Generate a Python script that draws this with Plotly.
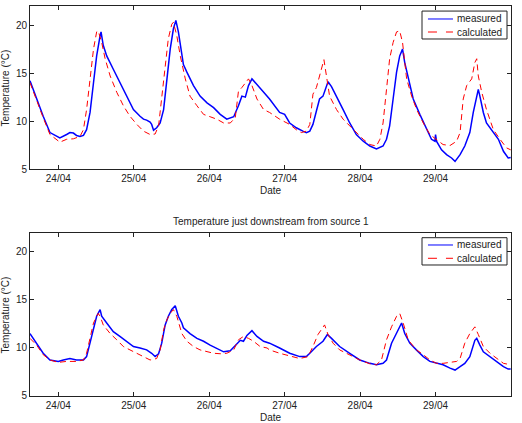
import pandas as pd
import plotly.graph_objects as go

# ---------------- data (hours since 24/04 00:00, temperature in degC) ----------------
up_meas_h = [-9.0, -6.9, -4.8, -2.65, 0, 0.5, 2.65, 3.7, 4.8, 5.8, 6.9, 8.0, 9.0, 10.1, 11.2, 12.2, 13.3, 13.6,
             14.3, 15.4, 17.5, 19.6, 21.8, 23.9, 26.0, 27.1, 28.1, 29.2, 29.7, 30.3, 31.3, 32.4, 33.5, 34.5,
             35.6, 36.6, 37.4, 38.2, 39.3, 39.8, 40.9, 43.0, 45.1, 47.3, 49.4, 51.5, 53.6, 55.8, 57.3, 58.4,
             59.5, 60.5, 61.6, 62.7, 64.2, 66.4, 67.2, 70.4, 72.0, 73.6, 75.7, 77.8, 78.9, 80.0, 81.0, 82.1,
             83.1, 84.2, 85.3, 85.8, 86.9, 88.5, 90.6, 92.7, 94.8, 97.0, 99.1, 101.2, 103.3, 104.4, 105.4,
             106.5, 107.6, 108.6, 109.5, 110.2, 111.3, 112.9, 115.0, 117.1, 118.7, 119.8, 120.0, 120.3,
             121.9, 123.5, 125.1, 126.2, 127.8, 129.3, 130.9, 132.0, 132.8, 133.6, 134.1, 135.2, 136.2,
             138.4, 140.0, 141.6, 143.1, 143.9]
up_meas_t = [14.2, 12.3, 10.5, 8.8, 8.4, 8.25, 8.6, 8.8, 8.75, 8.5, 8.4, 8.5, 9.1, 10.9, 14.0, 16.8, 18.9, 19.3,
             17.9, 16.8, 15.4, 14.0, 12.6, 11.2, 10.5, 10.2, 10.1, 9.9, 9.65, 9.05, 9.3, 9.8, 11.2, 14.0,
             17.5, 19.6, 20.5, 19.3, 16.8, 15.9, 15.1, 13.7, 12.6, 11.9, 11.4, 10.7, 10.2, 10.45, 11.6, 12.6,
             12.5, 13.7, 14.4, 14.0, 13.5, 12.6, 12.3, 10.9, 10.7, 9.8, 9.3, 8.95, 8.8, 8.95, 9.65, 11.05,
             12.3, 12.6, 13.5, 14.1, 13.6, 12.6, 11.2, 9.8, 8.6, 7.9, 7.4, 7.1, 7.4, 8.1, 9.5,
             12.3, 15.1, 16.8, 17.5, 16.1, 14.4, 12.3, 10.7, 9.3, 8.1, 7.9, 8.6, 7.9,
             7.0, 6.5, 6.15, 5.8, 6.5, 7.4, 8.8, 10.9, 12.3, 13.3, 12.6, 10.9, 9.8,
             8.8, 8.1, 6.85, 6.15, 6.2]

up_calc_h = [-9.0, -6.9, -4.8, -2.65, -0.5, 0.5, 2.65, 4.8, 6.9, 8.0, 9.0, 10.1, 11.2, 12.2, 12.7, 13.8, 14.9,
             16.5, 18.6, 20.7, 22.8, 25.0, 27.1, 29.2, 30.8, 31.9, 32.9, 34.0, 35.0, 36.1, 36.6, 37.7, 38.8,
             40.4, 41.9, 44.1, 46.2, 48.3, 50.4, 52.6, 54.7, 56.3, 57.3, 58.4, 59.5, 60.5, 61.6, 63.2, 65.3,
             67.2, 70.4, 73.6, 75.7, 77.3, 78.9, 80.0, 81.0, 82.1, 83.1, 84.2, 84.5, 85.3, 86.3, 88.5, 90.6,
             92.7, 94.8, 97.0, 99.1, 101.2, 102.3, 103.3, 104.4, 105.4, 106.5, 107.6, 108.6, 109.5, 110.8,
             112.4, 114.0, 116.1, 118.2, 120.3, 122.4, 124.6, 126.7, 127.8, 128.8, 129.9, 131.5, 132.5,
             133.1, 133.6, 134.7, 136.2, 138.4, 140.5, 142.6, 143.9]
up_calc_t = [14.0, 12.1, 10.35, 8.6, 8.1, 7.8, 8.1, 8.15, 8.4, 9.1, 11.2, 14.7, 17.5, 19.3, 19.4, 18.2, 16.5,
             14.7, 13.0, 11.6, 10.5, 9.65, 8.95, 8.6, 8.65, 9.5, 12.3, 15.8, 18.6, 20.1, 20.3, 18.9, 16.8,
             14.4, 12.6, 11.6, 10.7, 10.45, 10.2, 9.8, 9.8, 10.35, 13.1, 13.5, 14.0, 14.4, 13.7, 12.3, 11.2,
             10.9, 10.2, 9.65, 9.1, 8.8, 8.95, 9.65, 12.8, 13.5, 14.7, 16.3, 16.4, 14.7, 12.6, 11.2, 10.2,
             9.5, 8.8, 8.1, 7.55, 7.4, 8.1, 9.8, 13.3, 16.5, 18.2, 19.3, 19.4, 18.2, 14.4,
             12.6, 11.2, 9.8, 8.6, 8.1, 7.55, 7.45, 7.9, 8.8, 12.3, 13.7, 14.4, 16.1,
             16.5, 14.7, 13.0, 11.2, 9.1, 8.1, 7.2, 7.0]

dn_meas_h = [-9.0, -6.9, -4.8, -2.65, 0, 1.6, 3.7, 5.8, 8.0, 9.0, 10.1, 11.2, 12.2, 13.3, 13.8, 15.4, 17.5,
             19.6, 21.8, 23.9, 26.0, 28.1, 29.7, 30.8, 31.9, 32.9, 34.0, 35.0, 36.1, 37.2, 38.2, 39.3, 39.8,
             41.9, 44.1, 46.2, 48.3, 50.4, 52.6, 54.7, 56.8, 57.9, 58.9, 60.0, 61.6, 63.2, 65.3, 67.2, 70.4,
             73.6, 76.8, 78.9, 80.0, 82.1, 84.2, 85.6, 86.9, 89.5, 92.7, 95.9, 99.1, 101.2, 103.3, 104.4,
             106.0, 107.6, 109.2, 110.2, 111.8, 113.9, 116.1, 118.2, 120.3, 122.4, 124.6, 126.2, 127.8,
             129.3, 130.9, 132.0, 132.5, 133.1, 133.6, 134.1, 135.2, 137.3, 139.4, 141.6, 143.1, 143.9]
dn_meas_t = [11.5, 10.5, 9.45, 8.75, 8.6, 8.75, 8.9, 8.75, 8.75, 9.1, 10.5, 12.2, 13.3, 14.0, 13.3, 12.6, 11.7,
             11.2, 10.7, 10.15, 10.0, 9.8, 9.45, 9.1, 9.4, 10.5, 12.4, 13.3, 14.0, 14.4, 13.3, 12.6, 12.1,
             11.5, 11.0, 10.7, 10.3, 10.0, 9.6, 9.7, 10.5, 10.8, 10.7, 11.3, 11.8, 11.2, 10.7, 10.5, 10.0,
             9.45, 9.1, 9.1, 9.45, 10.15, 10.7, 11.4, 11.0, 10.15, 9.45, 8.75, 8.4, 8.25, 8.4, 8.75,
             10.5, 11.5, 12.6, 11.5, 10.5, 9.8, 9.1, 8.6, 8.4, 8.25, 7.9, 7.7, 8.05,
             8.4, 9.1, 10.15, 10.8, 11.0, 10.6, 10.3, 9.6, 9.1, 8.6, 8.05, 7.8, 7.8]

dn_calc_h = [-9.0, -6.9, -4.8, -2.65, 0, 2.65, 5.8, 8.0, 9.0, 10.1, 11.2, 12.7, 13.3, 14.3, 16.5, 18.6, 20.7,
             22.8, 25.0, 27.1, 29.2, 31.3, 32.4, 33.5, 34.5, 35.6, 36.6, 37.7, 39.3, 40.9, 43.0, 45.1, 47.3,
             49.4, 51.5, 53.6, 55.8, 57.3, 58.9, 60.5, 62.1, 64.2, 66.4, 67.2, 70.4, 73.6, 76.8, 79.4, 81.0,
             82.6, 84.2, 84.7, 85.8, 87.4, 89.5, 92.7, 95.9, 99.1, 101.2, 102.8, 104.4, 106.0, 107.6, 108.6,
             109.7, 111.3, 113.9, 116.1, 118.2, 120.3, 122.4, 124.6, 126.7, 127.8, 129.3, 130.9, 132.5,
             133.6, 135.2, 137.3, 139.4, 141.6, 143.9]
dn_calc_t = [11.0, 10.3, 9.3, 8.75, 8.5, 8.6, 8.6, 8.75, 9.45, 11.2, 12.6, 13.6, 13.3, 12.4, 11.5, 10.85, 10.15,
             9.8, 9.45, 9.1, 8.75, 8.9, 9.8, 11.9, 12.9, 13.6, 14.0, 13.3, 11.5, 10.7, 10.15, 9.8, 9.6,
             9.45, 9.4, 9.45, 9.8, 10.85, 11.2, 11.0, 10.7, 10.15, 10.0, 9.8, 9.45, 9.2, 8.9, 9.1, 10.15,
             11.4, 12.2, 12.4, 11.4, 10.5, 9.8, 9.3, 8.75, 8.35, 8.25, 8.75, 10.85, 12.2, 13.3, 13.6,
             12.6, 10.85, 9.8, 9.3, 8.75, 8.4, 8.4, 8.5, 8.6, 8.9, 10.5, 11.5, 12.2,
             11.4, 10.15, 9.45, 8.9, 8.4, 8.25]

series_names = ["measured", "calculated"]
titles = ["Temperature just upstream from source 1", "Temperature just downstream from source 1"]
tick_days = ["2011-04-24", "2011-04-25", "2011-04-26", "2011-04-27", "2011-04-28", "2011-04-29"]
tick_labels = ["24/04", "25/04", "26/04", "27/04", "28/04", "29/04"]
y_ticks = [5, 10, 15, 20]

base = pd.Timestamp("2011-04-24")


def to_dt(hours):
    return base + pd.to_timedelta(hours, unit="h")


FONT = "Liberation Sans, Arial, Helvetica, sans-serif"
BLUE = "#0000ff"
RED = "#ff0000"
DARK = "#222"

fig = go.Figure()
# top panel
fig.add_trace(go.Scatter(x=to_dt(up_meas_h), y=up_meas_t, mode="lines", name=series_names[0],
                         line=dict(color=BLUE, width=1.5), xaxis="x", yaxis="y", showlegend=False))
fig.add_trace(go.Scatter(x=to_dt(up_calc_h), y=up_calc_t, mode="lines", name=series_names[1],
                         line=dict(color=RED, width=1, dash="6px,4px"), xaxis="x", yaxis="y", showlegend=False))
# bottom panel
fig.add_trace(go.Scatter(x=to_dt(dn_meas_h), y=dn_meas_t, mode="lines", name=series_names[0],
                         line=dict(color=BLUE, width=1.5), xaxis="x2", yaxis="y2", showlegend=False))
fig.add_trace(go.Scatter(x=to_dt(dn_calc_h), y=dn_calc_t, mode="lines", name=series_names[1],
                         line=dict(color=RED, width=1, dash="6px,4px"), xaxis="x2", yaxis="y2", showlegend=False))

xrange = [to_dt(-9.0), to_dt(144.0)]
ax_common = dict(showgrid=False, zeroline=False, showline=True, linecolor=DARK, linewidth=1,
                 mirror="allticks", ticks="inside", ticklen=4, tickcolor=DARK,
                 tickfont=dict(family=FONT, size=10, color=DARK))

fig.update_layout(
    width=522, height=423,
    margin=dict(l=30, r=11, t=6, b=27),
    paper_bgcolor="white", plot_bgcolor="white",
    font=dict(family=FONT, size=10, color=DARK),
    showlegend=False,
    xaxis=dict(domain=[0, 1], anchor="y", range=xrange, tickvals=pd.to_datetime(tick_days),
               ticktext=tick_labels, **ax_common),
    yaxis=dict(domain=[0.582, 1.0], anchor="x", range=[5, 22], tickvals=y_ticks, **ax_common),
    xaxis2=dict(domain=[0, 1], anchor="y2", range=xrange, tickvals=pd.to_datetime(tick_days),
                ticktext=tick_labels, **ax_common),
    yaxis2=dict(domain=[0.0, 0.4187], anchor="x2", range=[5, 22], tickvals=y_ticks, **ax_common),
)

ann = dict(xref="paper", yref="paper", showarrow=False, font=dict(family=FONT, size=10, color=DARK))
fig.add_annotation(text=titles[0], x=0.5, y=1.012, xanchor="center", yanchor="bottom", **ann)
fig.add_annotation(text=titles[1], x=0.5, y=0.447, xanchor="center", yanchor="middle", **ann)
fig.add_annotation(text="Date", x=0.5, y=0.528, xanchor="center", yanchor="middle", **ann)
fig.add_annotation(text="Date", x=0.5, y=-0.054, xanchor="center", yanchor="middle", **ann)
fig.add_annotation(text="Temperature (°C)", x=-0.05, y=0.791, xanchor="center", yanchor="middle",
                   textangle=-90, **ann)
fig.add_annotation(text="Temperature (°C)", x=-0.05, y=0.209, xanchor="center", yanchor="middle",
                   textangle=-90, **ann)

# MATLAB-style legend boxes (one per panel)
legend_boxes = [
    dict(x0=0.815, x1=0.9917, y0=0.9154, y1=0.987, rows=[0.9667, 0.9333]),
    dict(x0=0.815, x1=0.9917, y0=0.3359, y1=0.4059, rows=[0.3872, 0.3531]),
]
styles = [dict(color=BLUE, width=1), dict(color=RED, width=1, dash="dash")]
for lb in legend_boxes:
    fig.add_shape(type="rect", xref="paper", yref="paper", x0=lb["x0"], x1=lb["x1"], y0=lb["y0"], y1=lb["y1"],
                  line=dict(color=DARK, width=1), fillcolor="white", layer="above")
    for name, yrow, st in zip(series_names, lb["rows"], styles):
        fig.add_shape(type="line", xref="paper", yref="paper", x0=0.8274, x1=0.8794, y0=yrow, y1=yrow,
                      line=st, layer="above")
        fig.add_annotation(text=name, x=0.8836, y=yrow, xanchor="left", yanchor="middle", **ann)

fig.write_html("out.html")
